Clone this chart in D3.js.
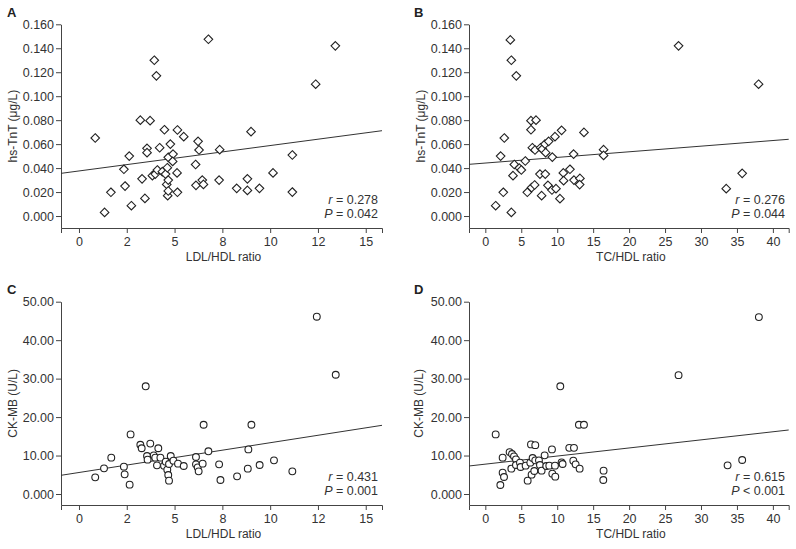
<!DOCTYPE html>
<html lang="en">
<head>
<meta charset="UTF-8" />
<title>Cardiac markers vs lipid ratios</title>
<style>
    body { margin: 0; background: #fff; }
    svg { font-family: "Liberation Sans", Arial, sans-serif; }
    .axis path, .axis line { stroke: #444; stroke-width: 1px; }
    .axis text { font-size: 12.5px; fill: #333; }
    .title { font-size: 12px; fill: #333; }
    .letter { font-size: 13px; font-weight: bold; fill: #222; }
    .stat { font-size: 12.5px; fill: #333; }
    .fit { stroke: #333; stroke-width: 1px; fill: none; }
    .mark { fill: #fff; stroke: #222; stroke-width: 1.1px; }
</style>
</head>
<body>
<svg width="796" height="549"></svg>
<script src="https://d3js.org/d3.v7.min.js"></script>
<script>
// panel A: LDL/HDL vs hs-TnT
const ldlA = [0.85, 1.34, 1.67, 2.35, 2.41, 2.63, 2.74, 3.21, 3.30, 3.45, 3.56, 3.56, 3.72, 3.84, 3.94, 4.05, 3.99, 4.10,
    4.22, 4.36, 4.47, 4.53, 4.59, 4.62, 4.64, 4.67, 4.67, 4.67, 4.78, 4.92, 4.90, 5.13, 5.15, 5.15, 5.48, 6.10, 6.12,
    6.23, 6.28, 6.45, 6.51, 6.77, 7.33, 7.36, 8.25, 8.81, 9.00, 8.81, 9.44, 10.15, 11.16, 11.16, 12.38, 13.41];
const tntA = [0.0651, 0.003, 0.0198, 0.039, 0.025, 0.050, 0.0086, 0.080, 0.031, 0.0147, 0.0565, 0.0529, 0.0796, 0.0337,
    0.130, 0.117, 0.035, 0.0384, 0.057, 0.037, 0.072, 0.035, 0.0264, 0.0403, 0.017, 0.030, 0.049, 0.0209, 0.060, 0.0517,
    0.0456, 0.036, 0.0718, 0.0198, 0.0662, 0.043, 0.0256, 0.0623, 0.0551, 0.030, 0.0264, 0.1475, 0.030, 0.0554, 0.0231,
    0.031, 0.0704, 0.0214, 0.0231, 0.036, 0.0509, 0.020, 0.110, 0.142];

// panel B: TC/HDL vs hs-TnT
const tcB = [1.44, 2.13, 2.50, 2.64, 3.62, 3.48, 3.62, 3.85, 4.03, 4.31, 4.73, 5.01, 5.56, 5.84, 6.35, 6.35, 6.44, 6.54,
    6.86, 6.91, 7.05, 7.60, 7.69, 7.83, 7.93, 8.30, 8.39, 8.34, 8.81, 8.71, 9.32, 9.27, 9.69, 9.83, 10.38, 10.61, 10.85,
    10.89, 11.77, 12.28, 12.33, 13.16, 13.12, 13.72, 16.45, 16.45, 26.88, 33.51, 35.73, 38.01];
const tntB = [0.0086, 0.050, 0.0198, 0.0651, 0.003, 0.147, 0.130, 0.0337, 0.043, 0.117, 0.040, 0.0384, 0.0459, 0.0198,
    0.0796, 0.072, 0.0237, 0.057, 0.0259, 0.0551, 0.080, 0.035, 0.057, 0.017, 0.0559, 0.060, 0.0529, 0.035, 0.0623,
    0.0256, 0.0492, 0.0217, 0.0662, 0.0228, 0.0145, 0.0715, 0.036, 0.0295, 0.039, 0.0517, 0.030, 0.0314, 0.0262, 0.0698,
    0.0554, 0.0506, 0.142, 0.0228, 0.0356, 0.110];

// panel C: LDL/HDL vs CK-MB
const ldlC = [0.85, 1.31, 1.69, 2.35, 2.39, 2.65, 2.70, 3.21, 3.28, 3.49, 3.56, 3.59, 3.73, 3.91, 3.99, 4.08, 4.15, 4.26,
    4.45, 4.54, 4.62, 4.67, 4.71, 4.71, 4.80, 4.94, 5.18, 5.48, 6.12, 6.12, 6.21, 6.26, 6.47, 6.52, 6.77, 7.33, 7.40,
    8.27, 8.83, 8.86, 9.02, 9.45, 10.20, 11.16, 12.44, 13.43];
const ckC = [4.33, 6.67, 9.45, 7.11, 5.11, 2.43, 15.5, 12.8, 11.9, 28.0, 9.88, 8.93, 13.1, 10.05, 9.45, 7.45, 11.9, 9.45,
    7.37, 8.41, 6.33, 4.94, 3.47, 7.80, 9.88, 8.67, 7.89, 7.28, 9.62, 7.71, 6.93, 5.89, 7.89, 18.0, 11.1, 7.71, 3.64,
    4.59, 6.59, 11.6, 18.0, 7.54, 8.75, 5.89, 46.1, 31.0];

// panel D: TC/HDL vs CK-MB
const tcD = [1.44, 2.09, 2.41, 2.41, 2.60, 3.38, 3.62, 3.71, 3.99, 4.26, 4.26, 4.82, 4.91, 5.61, 5.89, 6.26, 6.35, 6.44,
    6.58, 6.81, 6.95, 6.95, 7.46, 7.60, 7.83, 8.25, 8.48, 8.90, 9.27, 9.32, 9.73, 9.69, 10.43, 10.61, 10.75, 11.68, 12.33,
    12.24, 12.56, 13.12, 13.02, 13.72, 16.45, 16.41, 26.88, 33.70, 35.73, 38.05];
const ckD = [15.5, 2.34, 9.45, 5.55, 4.42, 10.9, 6.59, 10.4, 9.79, 9.01, 7.54, 8.15, 7.02, 7.37, 3.47, 8.15, 12.9, 5.03,
    9.36, 5.98, 12.7, 8.75, 8.75, 7.54, 6.07, 10.05, 7.28, 7.37, 11.6, 5.29, 4.51, 7.37, 28.0, 8.23, 7.80, 12.0, 12.0,
    8.67, 7.71, 6.59, 18.0, 18.0, 6.07, 3.64, 30.9, 7.45, 8.84, 46.0];

// fitted lines (intercept, slope) and stats
const fitIntercept = [0.0376, 0.0442, 5.59, 7.76];
const fitSlope = [0.00212, 0.00047, 0.774, 0.2105];
const rText = ['0.278', '0.276', '0.431', '0.615'];
const pText = ['= 0.042', '= 0.044', '= 0.001', '< 0.001'];

// ticks
const ldlTicks = [0, 2.5, 5, 7.5, 10, 12.5, 15];
const ldlTickLabels = ['0', '2', '5', '8', '10', '12', '15'];
const tcTicks = [0, 5, 10, 15, 20, 25, 30, 35, 40];
const tntTicks = [0, 0.02, 0.04, 0.06, 0.08, 0.1, 0.12, 0.14, 0.16];
const ckTicks = [0, 10, 20, 30, 40, 50];
const ckTickLabels = ['0.000', '10.00', '20.00', '30.00', '40.00', '50.00'];

const svg = d3.select('svg');

const panels = [
    { letter: 'A', xs: ldlA, ys: tntA, shape: 'diamond', xDom: [-0.94, 15.85], xR: [61, 382], yDom: [-0.01, 0.16], yR: [228, 24.3],
      xt: ldlTicks, xf: (d, i) => ldlTickLabels[i], yt: tntTicks, yf: d3.format('.3f'),
      xTitle: 'LDL/HDL ratio', yTitle: 'hs-TnT (\u03bcg/L)', lx: 7, ly: 17, tx: 17, sx: 378, sy: 204 },
    { letter: 'B', xs: tcB, ys: tntB, shape: 'diamond', xDom: [-2.27, 42.2], xR: [469, 788.7], yDom: [-0.01, 0.16], yR: [228, 24.3],
      xt: tcTicks, xf: d3.format('d'), yt: tntTicks, yf: d3.format('.3f'),
      xTitle: 'TC/HDL ratio', yTitle: 'hs-TnT (\u03bcg/L)', lx: 414, ly: 17, tx: 425, sx: 785, sy: 204 },
    { letter: 'C', xs: ldlC, ys: ckC, shape: 'circle', xDom: [-0.94, 15.85], xR: [61, 382], yDom: [-2.86, 50], yR: [505, 301.7],
      xt: ldlTicks, xf: (d, i) => ldlTickLabels[i], yt: ckTicks, yf: (d, i) => ckTickLabels[i],
      xTitle: 'LDL/HDL ratio', yTitle: 'CK-MB (U/L)', lx: 7, ly: 294, tx: 17, sx: 378, sy: 481 },
    { letter: 'D', xs: tcD, ys: ckD, shape: 'circle', xDom: [-2.27, 42.2], xR: [469, 788.7], yDom: [-2.86, 50], yR: [505, 301.7],
      xt: tcTicks, xf: d3.format('d'), yt: ckTicks, yf: (d, i) => ckTickLabels[i],
      xTitle: 'TC/HDL ratio', yTitle: 'CK-MB (U/L)', lx: 414, ly: 294, tx: 423, sx: 785, sy: 481 }
];

panels.forEach((p, k) => {
    const x = d3.scaleLinear().domain(p.xDom).range(p.xR);
    const y = d3.scaleLinear().domain(p.yDom).range(p.yR);
    const g = svg.append('g');

    g.append('g')
        .attr('class', 'axis')
        .attr('transform', `translate(0,${p.yR[0]})`)
        .call(d3.axisBottom(x).tickValues(p.xt).tickFormat(p.xf).tickSize(5).tickSizeOuter(5).tickPadding(4));

    g.append('g')
        .attr('class', 'axis')
        .attr('transform', `translate(${p.xR[0]},0)`)
        .call(d3.axisLeft(y).tickValues(p.yt).tickFormat(p.yf).tickSize(5).tickSizeOuter(0).tickPadding(2));
    g.selectAll('.axis').attr('font-family', null).attr('font-size', null);

    // regression line
    const x0 = p.xDom[0], x1 = p.xDom[1];
    g.append('line')
        .attr('class', 'fit')
        .attr('x1', x(x0)).attr('y1', y(fitIntercept[k] + fitSlope[k] * x0))
        .attr('x2', x(x1)).attr('y2', y(fitIntercept[k] + fitSlope[k] * x1));

    const pts = p.xs.map((v, i) => [v, p.ys[i]]);
    if (p.shape === 'diamond') {
        const r = 4.3;
        g.selectAll('path.mark').data(pts).join('path')
            .attr('class', 'mark')
            .attr('d', (d) => `M${x(d[0])},${y(d[1]) - r}l${r},${r}l${-r},${r}l${-r},${-r}z`);
    } else {
        g.selectAll('circle.mark').data(pts).join('circle')
            .attr('class', 'mark')
            .attr('cx', (d) => x(d[0])).attr('cy', (d) => y(d[1])).attr('r', 3.4);
    }

    g.append('text').attr('class', 'letter').attr('x', p.lx).attr('y', p.ly).text(p.letter);

    g.append('text').attr('class', 'title')
        .attr('x', (p.xR[0] + p.xR[1]) / 2 + 2).attr('y', p.yR[0] + 33)
        .attr('text-anchor', 'middle').text(p.xTitle);

    g.append('text').attr('class', 'title')
        .attr('transform', `translate(${p.tx},${(p.yR[0] + p.yR[1]) / 2}) rotate(-90)`)
        .attr('text-anchor', 'middle').text(p.yTitle);

    const s1 = g.append('text').attr('class', 'stat').attr('x', p.sx).attr('y', p.sy).attr('text-anchor', 'end');
    s1.append('tspan').attr('font-style', 'italic').text('r');
    s1.append('tspan').text(' = ' + rText[k]);
    const s2 = g.append('text').attr('class', 'stat').attr('x', p.sx).attr('y', p.sy + 13.5).attr('text-anchor', 'end');
    s2.append('tspan').attr('font-style', 'italic').text('P');
    s2.append('tspan').text(' ' + pText[k]);
});
</script>
</body>
</html>
